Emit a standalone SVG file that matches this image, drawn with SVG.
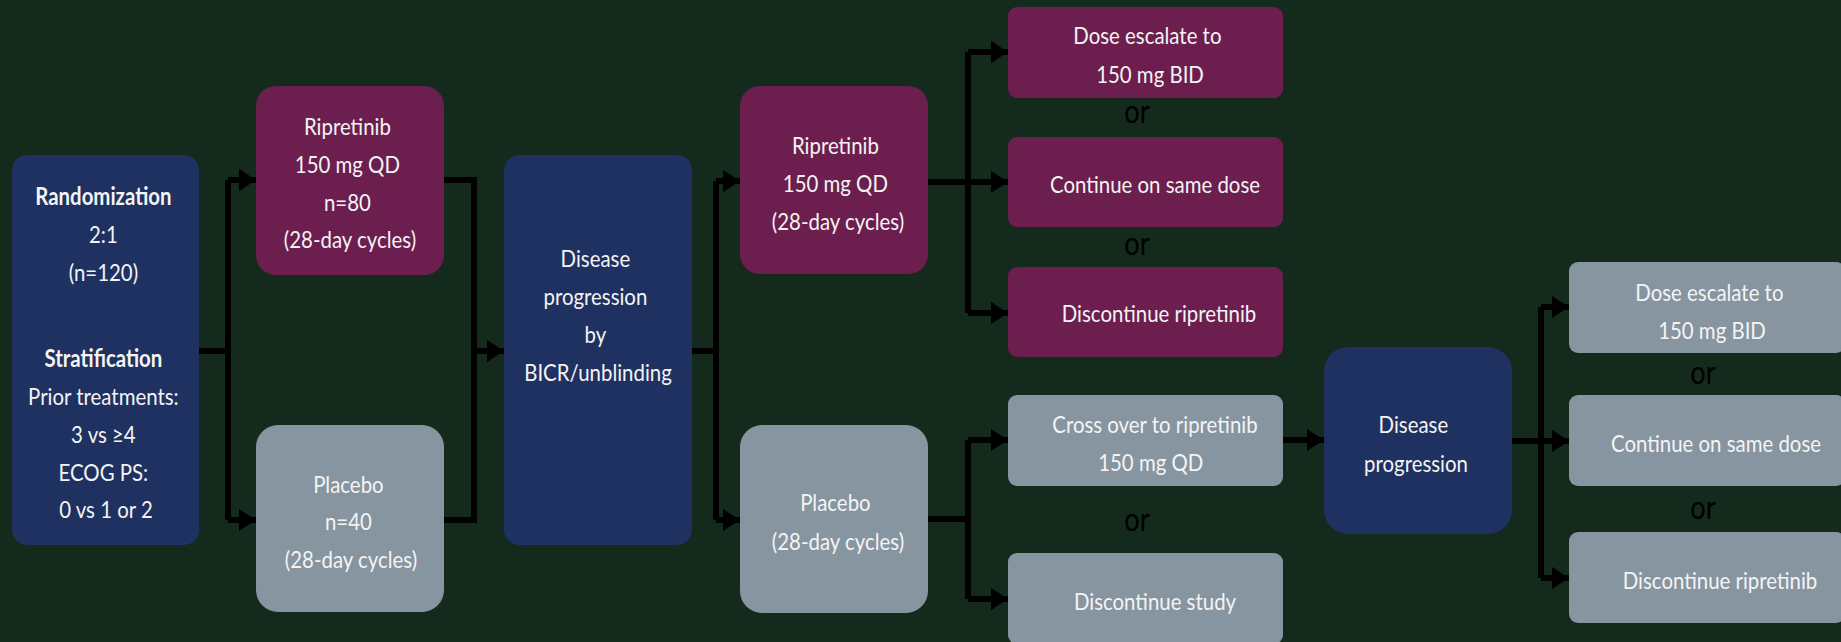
<svg xmlns="http://www.w3.org/2000/svg" width="1841" height="642" viewBox="0 0 1841 642">
<defs>
<style>
.bg{fill:#132a1c}
.navy{fill:#1f3160}
.purple{fill:#6c1f4f}
.gray{fill:#8795a0}
.t{font-family:Lato,"Open Sans",sans-serif;font-size:24px;fill:#f4f4f4;text-anchor:middle}
.b{font-weight:bold}
.or{font-family:Lato,"Open Sans",sans-serif;font-size:32px;fill:#000;text-anchor:middle}
.c{fill:none;stroke:#000;stroke-width:6;stroke-linejoin:miter}
.a{fill:#000}
</style>
<marker id="ah" markerUnits="userSpaceOnUse" markerWidth="18" markerHeight="24" refX="17" refY="11" orient="auto" viewBox="0 0 18 22">
<path d="M0,0 L17,11 L0,22 Z" class="a"/>
</marker>
</defs>
<rect class="bg" x="0" y="0" width="1841" height="642"/>

<g id="connectors">
<path class="c" d="M199,351 H228 M228,180 V520"/>
<path class="c" d="M228,180 H256" marker-end="url(#ah)"/>
<path class="c" d="M228,520 H256" marker-end="url(#ah)"/>
<path class="c" d="M444,180 H474 V520 H444"/>
<path class="c" d="M474,351 H504" marker-end="url(#ah)"/>
<path class="c" d="M692,351 H716 M716,181 V520"/>
<path class="c" d="M716,181 H740" marker-end="url(#ah)"/>
<path class="c" d="M716,520 H740" marker-end="url(#ah)"/>
<path class="c" d="M928,182 H968 M968,52 V313"/>
<path class="c" d="M968,52 H1008" marker-end="url(#ah)"/>
<path class="c" d="M968,182 H1008" marker-end="url(#ah)"/>
<path class="c" d="M968,313 H1008" marker-end="url(#ah)"/>
<path class="c" d="M928,519 H968 M968,440 V599"/>
<path class="c" d="M968,440 H1008" marker-end="url(#ah)"/>
<path class="c" d="M968,599 H1008" marker-end="url(#ah)"/>
<path class="c" d="M1283,440 H1324" marker-end="url(#ah)"/>
<path class="c" d="M1512,441 H1541 M1541,307 V578"/>
<path class="c" d="M1541,441 H1569" marker-end="url(#ah)"/>
<path class="c" d="M1541,307 H1569" marker-end="url(#ah)"/>
<path class="c" d="M1541,578 H1569" marker-end="url(#ah)"/>
</g>

<g id="randomization">
<rect class="navy" x="12" y="155" width="187" height="390" rx="15"/>
<text class="t" transform="translate(106,0) scale(0.85,1)">
<tspan class="b" x="0" y="205">Randomization</tspan>
<tspan x="0" y="243">2:1</tspan>
<tspan x="0" y="281">(n=120)</tspan>
<tspan class="b" x="0" y="367">Stratification</tspan>
<tspan x="0" y="405">Prior treatments:</tspan>
<tspan x="0" y="443">3 vs ≥4</tspan>
<tspan x="0" y="481">ECOG PS:</tspan>
<tspan x="0" y="518">0 vs 1 or 2</tspan>
</text>
</g>

<g id="ripretinib-arm">
<rect class="purple" x="256" y="86" width="188" height="189" rx="20"/>
<text class="t" transform="translate(350,0) scale(0.85,1)">
<tspan x="0" y="135">Ripretinib</tspan>
<tspan x="0" y="173">150 mg QD</tspan>
<tspan x="0" y="211">n=80</tspan>
<tspan x="0" y="248">(28-day cycles)</tspan>
</text>
</g>

<g id="placebo-arm">
<rect class="gray" x="256" y="425" width="188" height="187" rx="22"/>
<text class="t" transform="translate(351,0) scale(0.85,1)">
<tspan x="0" y="493">Placebo</tspan>
<tspan x="0" y="530">n=40</tspan>
<tspan x="0" y="568">(28-day cycles)</tspan>
</text>
</g>

<g id="disease-progression-1">
<rect class="navy" x="504" y="155" width="188" height="390" rx="15"/>
<text class="t" transform="translate(598,0) scale(0.85,1)">
<tspan x="0" y="267">Disease</tspan>
<tspan x="0" y="305">progression</tspan>
<tspan x="0" y="343">by</tspan>
<tspan x="0" y="381">BICR/unblinding</tspan>
</text>
</g>

<g id="ripretinib-continued">
<rect class="purple" x="740" y="86" width="188" height="188" rx="20"/>
<text class="t" transform="translate(838,0) scale(0.85,1)">
<tspan x="0" y="154">Ripretinib</tspan>
<tspan x="0" y="192">150 mg QD</tspan>
<tspan x="0" y="230">(28-day cycles)</tspan>
</text>
</g>

<g id="placebo-continued">
<rect class="gray" x="740" y="425" width="188" height="188" rx="22"/>
<text class="t" transform="translate(838,0) scale(0.85,1)">
<tspan x="0" y="511">Placebo</tspan>
<tspan x="0" y="550">(28-day cycles)</tspan>
</text>
</g>

<g id="r-dose-escalate">
<rect class="purple" x="1008" y="7" width="275" height="91" rx="9"/>
<text class="t" transform="translate(1150,0) scale(0.85,1)">
<tspan x="0" y="44">Dose escalate to</tspan>
<tspan x="0" y="83">150 mg BID</tspan>
</text>
</g>

<g id="r-continue">
<rect class="purple" x="1008" y="137" width="275" height="90" rx="9"/>
<text class="t" transform="translate(1155,0) scale(0.85,1)"><tspan x="0" y="193">Continue on same dose</tspan></text>
</g>

<g id="r-discontinue">
<rect class="purple" x="1008" y="267" width="275" height="90" rx="9"/>
<text class="t" transform="translate(1159,0) scale(0.85,1)"><tspan x="0" y="322">Discontinue ripretinib</tspan></text>
</g>

<g id="p-cross-over">
<rect class="gray" x="1008" y="395" width="275" height="91" rx="9"/>
<text class="t" transform="translate(1155,0) scale(0.85,1)">
<tspan x="3" y="433">Cross over to ripretinib</tspan>
<tspan x="-5" y="471">150 mg QD</tspan>
</text>
</g>

<g id="p-discontinue">
<rect class="gray" x="1008" y="553" width="275" height="91" rx="9"/>
<text class="t" transform="translate(1155,0) scale(0.85,1)"><tspan x="0" y="610">Discontinue study</tspan></text>
</g>

<g id="disease-progression-2">
<rect class="navy" x="1324" y="347" width="188" height="187" rx="24"/>
<text class="t" transform="translate(1416,0) scale(0.85,1)">
<tspan x="0" y="433">Disease</tspan>
<tspan x="0" y="472">progression</tspan>
</text>
</g>

<g id="c-dose-escalate">
<rect class="gray" x="1569" y="262" width="276" height="91" rx="9"/>
<text class="t" transform="translate(1712,0) scale(0.85,1)">
<tspan x="0" y="301">Dose escalate to</tspan>
<tspan x="0" y="339">150 mg BID</tspan>
</text>
</g>

<g id="c-continue">
<rect class="gray" x="1569" y="395" width="276" height="91" rx="9"/>
<text class="t" transform="translate(1716,0) scale(0.85,1)"><tspan x="0" y="452">Continue on same dose</tspan></text>
</g>

<g id="c-discontinue">
<rect class="gray" x="1569" y="532" width="276" height="91" rx="9"/>
<text class="t" transform="translate(1720,0) scale(0.85,1)"><tspan x="0" y="589">Discontinue ripretinib</tspan></text>
</g>

<g id="or-labels">
<text class="or" transform="translate(1137,0) scale(0.85,1)"><tspan x="0" y="123">or</tspan></text>
<text class="or" transform="translate(1137,0) scale(0.85,1)"><tspan x="0" y="255">or</tspan></text>
<text class="or" transform="translate(1137,0) scale(0.85,1)"><tspan x="0" y="531">or</tspan></text>
<text class="or" transform="translate(1703,0) scale(0.85,1)"><tspan x="0" y="384">or</tspan></text>
<text class="or" transform="translate(1703,0) scale(0.85,1)"><tspan x="0" y="519">or</tspan></text>
</g>
</svg>
